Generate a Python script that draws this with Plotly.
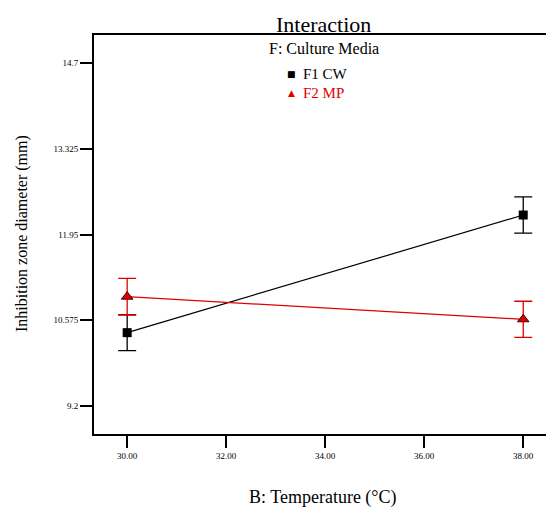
import plotly.graph_objects as go

temperature = [30.0, 38.0]
f1_cw = [10.373, 12.263]
f2_mp = [10.951, 10.588]
f1_err = [0.29, 0.29]
f2_err = [0.294, 0.29]
x_ticks = [30, 32, 34, 36, 38]
x_labels = ["30.00", "32.00", "34.00", "36.00", "38.00"]
y_ticks = [9.2, 10.575, 11.95, 13.325, 14.7]
y_labels = ["9.2", "10.575", "11.95", "13.325", "14.7"]

SERIF = "Liberation Serif"
RED = "#e00000"

fig = go.Figure()
fig.add_trace(go.Scatter(
    x=temperature, y=f1_cw, mode="lines+markers", name="F1 CW",
    line=dict(color="black", width=1.2),
    marker=dict(symbol="square", size=9, color="black"),
    error_y=dict(type="data", array=f1_err, color="black", thickness=1.3, width=9),
    showlegend=False,
))
fig.add_trace(go.Scatter(
    x=temperature, y=f2_mp, mode="lines+markers", name="F2 MP",
    line=dict(color=RED, width=1.2),
    marker=dict(symbol="triangle-up", size=10, color=RED, line=dict(color="#400000", width=1)),
    error_y=dict(type="data", array=f2_err, color=RED, thickness=1.3, width=9),
    showlegend=False,
))

def px2paper_x(px):
    return (px - 94) / 452

def px2paper_y(py):
    return (434 - py) / 399

annotations = [
    dict(text="Interaction", x=px2paper_x(323), y=px2paper_y(25), font=dict(size=22, color="black", family=SERIF)),
    dict(text="F: Culture Media", x=px2paper_x(324), y=px2paper_y(48), font=dict(size=16, color="black", family=SERIF)),
    dict(text="■", x=px2paper_x(291), y=px2paper_y(74), font=dict(size=9, color="black", family="DejaVu Sans")),
    dict(text="F1 CW", x=px2paper_x(301), y=px2paper_y(74), xanchor="left", font=dict(size=15, color="black", family=SERIF)),
    dict(text="▲", x=px2paper_x(291), y=px2paper_y(93), font=dict(size=9, color=RED, family="DejaVu Sans")),
    dict(text="F2 MP", x=px2paper_x(301), y=px2paper_y(93), xanchor="left", font=dict(size=15, color=RED, family=SERIF)),
    dict(text="B: Temperature (°C)", x=px2paper_x(323), y=px2paper_y(497), font=dict(size=18, color="black", family=SERIF)),
    dict(text="Inhibition zone diameter (mm)", x=px2paper_x(22), y=px2paper_y(234), textangle=-90, font=dict(size=16, color="black", family=SERIF)),
]
for a in annotations:
    a.setdefault("xanchor", "center")
    a["yanchor"] = "middle"
    a["xref"] = "paper"
    a["yref"] = "paper"
    a["showarrow"] = False

fig.update_layout(
    width=547, height=507,
    margin=dict(l=94, r=1, t=35, b=73),
    paper_bgcolor="white", plot_bgcolor="white",
    font=dict(family=SERIF),
    annotations=annotations,
    xaxis=dict(
        range=[29.33, 38.46], tickvals=x_ticks, ticktext=x_labels,
        showline=True, linecolor="black", linewidth=2, mirror=True,
        ticks="outside", ticklen=12, tickwidth=1.5, tickcolor="black",
        showgrid=False, zeroline=False,
        tickfont=dict(size=9, color="black", family=SERIF),
    ),
    yaxis=dict(
        range=[8.745, 15.155], tickvals=y_ticks, ticktext=y_labels,
        showline=True, linecolor="black", linewidth=2, mirror=False,
        ticks="outside", ticklen=12, tickwidth=1.5, tickcolor="black",
        showgrid=False, zeroline=False,
        tickfont=dict(size=9, color="black", family=SERIF),
    ),
)

fig.write_html("out.html")
